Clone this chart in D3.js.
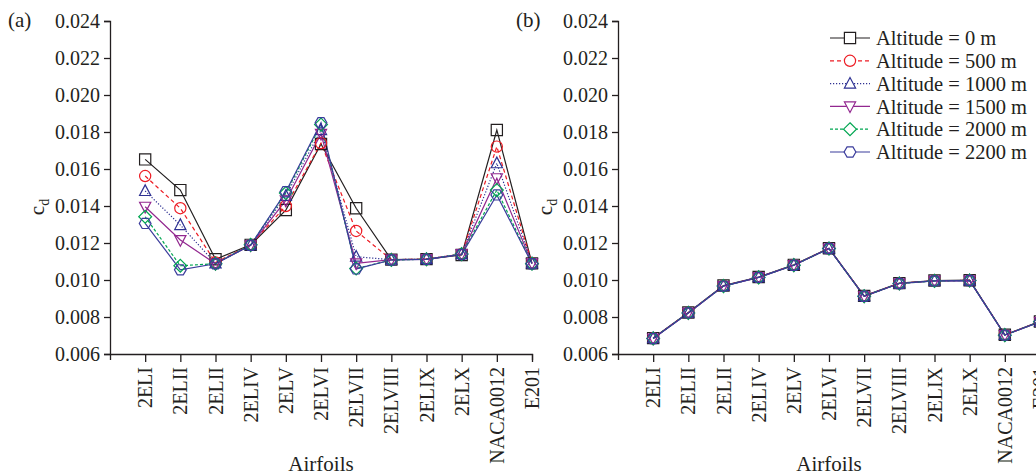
<!DOCTYPE html>
<html>
<head>
<meta charset="utf-8">
<script src="https://cdn.jsdelivr.net/npm/d3@7"></script>
<style>
    body { margin: 0; background: #fff; }
    svg { display: block; }
    text { font-family: "Liberation Serif", "DejaVu Serif", serif; fill: #231f20; }
</style>
</head>
<body>
<div id="chart"></div>
<script>
// airfoils (the third label reads "2ELII" in the original figure)
var categories = ['2ELI', '2ELII', '2ELII', '2ELIV', '2ELV', '2ELVI', '2ELVII', '2ELVIII', '2ELIX', '2ELX', 'NACA0012', 'E201'];
var altitudes = ['Altitude = 0 m', 'Altitude = 500 m', 'Altitude = 1000 m', 'Altitude = 1500 m', 'Altitude = 2000 m', 'Altitude = 2200 m'];
var yTicks = [0.006, 0.008, 0.010, 0.012, 0.014, 0.016, 0.018, 0.020, 0.022, 0.024];

// panel (a)
var alt0A    = [0.01652, 0.01486, 0.01112, 0.01190, 0.01378, 0.01735, 0.01388, 0.01110, 0.01113, 0.01135, 0.01811, 0.01090];
var alt500A  = [0.01562, 0.01388, 0.01095, 0.01190, 0.01400, 0.01740, 0.01265, 0.01110, 0.01113, 0.01140, 0.01721, 0.01090];
var alt1000A = [0.01481, 0.01297, 0.01090, 0.01188, 0.01455, 0.01810, 0.01126, 0.01110, 0.01113, 0.01140, 0.01631, 0.01090];
var alt1500A = [0.01396, 0.01216, 0.01088, 0.01188, 0.01430, 0.01790, 0.01090, 0.01110, 0.01112, 0.01140, 0.01550, 0.01090];
var alt2000A = [0.01342, 0.01077, 0.01088, 0.01190, 0.01470, 0.01840, 0.01062, 0.01108, 0.01112, 0.01140, 0.01486, 0.01088];
var alt2200A = [0.01306, 0.01055, 0.01088, 0.01188, 0.01477, 0.01850, 0.01060, 0.01108, 0.01112, 0.01138, 0.01460, 0.01088];

// panel (b)
var alt0B    = [0.00686, 0.00824, 0.00970, 0.01016, 0.01082, 0.01172, 0.00914, 0.00983, 0.00997, 0.00999, 0.00704, 0.00776];
var alt500B  = [0.00685, 0.00823, 0.00968, 0.01015, 0.01081, 0.01171, 0.00913, 0.00982, 0.00996, 0.00998, 0.00703, 0.00775];
var alt1000B = [0.00685, 0.00823, 0.00968, 0.01015, 0.01081, 0.01171, 0.00913, 0.00982, 0.00996, 0.00998, 0.00703, 0.00775];
var alt1500B = [0.00684, 0.00822, 0.00967, 0.01014, 0.01080, 0.01170, 0.00912, 0.00981, 0.00995, 0.00997, 0.00702, 0.00774];
var alt2000B = [0.00684, 0.00822, 0.00967, 0.01014, 0.01080, 0.01170, 0.00912, 0.00981, 0.00995, 0.00997, 0.00702, 0.00774];
var alt2200B = [0.00684, 0.00822, 0.00967, 0.01014, 0.01080, 0.01170, 0.00912, 0.00981, 0.00995, 0.00997, 0.00702, 0.00774];

var colors = ['#231f20', '#ed1c24', '#2e3192', '#92278f', '#00a651', '#3b3c9c'];
var dashes = [null, '4,3', '1.2,1.8', null, '3,2', null];
var markers = ['square', 'circle', 'triUp', 'triDown', 'diamond', 'hexagon'];
var FONT = '"Liberation Serif", "DejaVu Serif", serif';

function markerPath(type, r) {
    var p = d3.path();
    if (type == 'square') {
        p.rect(-r, -r, 2 * r, 2 * r);
    } else if (type == 'circle') {
        p.moveTo(r, 0);
        p.arc(0, 0, r, 0, 2 * Math.PI);
    } else if (type == 'triUp') {
        p.moveTo(0, -r * 1.1); p.lineTo(r, r * 0.8); p.lineTo(-r, r * 0.8); p.closePath();
    } else if (type == 'triDown') {
        p.moveTo(0, r * 1.1); p.lineTo(r, -r * 0.8); p.lineTo(-r, -r * 0.8); p.closePath();
    } else if (type == 'diamond') {
        p.moveTo(0, -r * 1.15); p.lineTo(r * 1.15, 0); p.lineTo(0, r * 1.15); p.lineTo(-r * 1.15, 0); p.closePath();
    } else if (type == 'hexagon') {
        for (var k = 0; k < 6; k++) {
            var a = k * Math.PI / 3;
            var px = r * 1.05 * Math.cos(a), py = r * 1.05 * Math.sin(a);
            if (k == 0) p.moveTo(px, py); else p.lineTo(px, py);
        }
        p.closePath();
    }
    return p.toString();
}

var W = 1036, H = 476;
var svg = d3.select('#chart').append('svg').attr('width', W).attr('height', H);

var plotW = 422, plotTop = 21, plotBottom = 354;

function drawPanel(left, series, tag) {
    var g = svg.append('g').attr('transform', 'translate(' + left + ',0)');
    var x = d3.scaleLinear().domain([-1, categories.length - 1]).range([0, plotW]);
    var y = d3.scaleLinear().domain([0.006, 0.024]).range([plotBottom, plotTop]);

    var yAxis = d3.axisLeft(y).tickValues(yTicks).tickFormat(d3.format('.3f')).tickSize(6).tickPadding(4);
    var gy = g.append('g').call(yAxis);
    var xAxis = d3.axisBottom(x).tickValues(d3.range(categories.length))
        .tickFormat(function(i) { return categories[i]; }).tickSize(8).tickSizeOuter(6);
    var gx = g.append('g').attr('transform', 'translate(0,' + plotBottom + ')').call(xAxis);

    [gx, gy].forEach(function(ax) {
        ax.attr('font-family', FONT);
        ax.select('.domain').attr('stroke', '#231f20').attr('stroke-width', 1.3);
        ax.selectAll('.tick line').attr('stroke', '#231f20').attr('stroke-width', 1.3);
        ax.selectAll('text').style('font-size', '20px').attr('fill', '#231f20')
            .style('font-family', FONT);
    });
    gx.selectAll('.tick text')
        .attr('transform', 'rotate(-90)')
        .attr('text-anchor', 'end')
        .attr('x', -13).attr('y', 0).attr('dy', '0.33em');

    var line = d3.line().x(function(d, i) { return x(i); }).y(function(d) { return y(d); });

    series.forEach(function(vals, s) {
        g.append('path').datum(vals)
            .attr('d', line)
            .attr('fill', 'none')
            .attr('stroke', colors[s])
            .attr('stroke-width', 1.2)
            .attr('stroke-dasharray', dashes[s]);
    });
    series.forEach(function(vals, s) {
        g.selectAll('.m' + s).data(vals).enter().append('path')
            .attr('class', 'm' + s)
            .attr('transform', function(d, i) { return 'translate(' + x(i) + ',' + y(d) + ')'; })
            .attr('d', markerPath(markers[s], 5.6))
            .attr('fill', 'none')
            .attr('stroke', colors[s])
            .attr('stroke-width', 1.2);
    });

    // axis titles
    var cd = g.append('text')
        .attr('transform', 'translate(-66,' + 207 + ') rotate(-90)')
        .attr('text-anchor', 'middle')
        .style('font-family', FONT)
        .style('font-size', '21px');
    cd.append('tspan').text('c');
    cd.append('tspan').attr('dy', 5).style('font-size', '14px').text('d');

    g.append('text')
        .attr('x', plotW / 2).attr('y', 471)
        .attr('text-anchor', 'middle')
        .style('font-family', FONT)
        .style('font-size', '21px')
        .text('Airfoils');

    g.append('text')
        .attr('x', -102).attr('y', 27)
        .style('font-family', FONT)
        .style('font-size', '21px')
        .text(tag);
    return g;
}

drawPanel(110, [alt0A, alt500A, alt1000A, alt1500A, alt2000A, alt2200A], '(a)');
drawPanel(618, [alt0B, alt500B, alt1000B, alt1500B, alt2000B, alt2200B], '(b)');

// legend
var legend = svg.append('g').attr('transform', 'translate(830,38)');
altitudes.forEach(function(name, s) {
    var row = legend.append('g').attr('transform', 'translate(0,' + (s * 22.8) + ')');
    row.append('line').attr('x1', 0).attr('x2', 40).attr('y1', 0).attr('y2', 0)
        .attr('stroke', colors[s]).attr('stroke-width', 1.2).attr('stroke-dasharray', dashes[s]);
    row.append('path').attr('transform', 'translate(20,0)')
        .attr('d', markerPath(markers[s], 5.6))
        .attr('fill', '#fff').attr('stroke', colors[s]).attr('stroke-width', 1.2);
    row.append('text').attr('x', 46).attr('y', 0).attr('dy', '0.35em')
        .style('font-family', FONT)
        .style('font-size', '20.5px').text(name);
});
</script>
</body>
</html>
